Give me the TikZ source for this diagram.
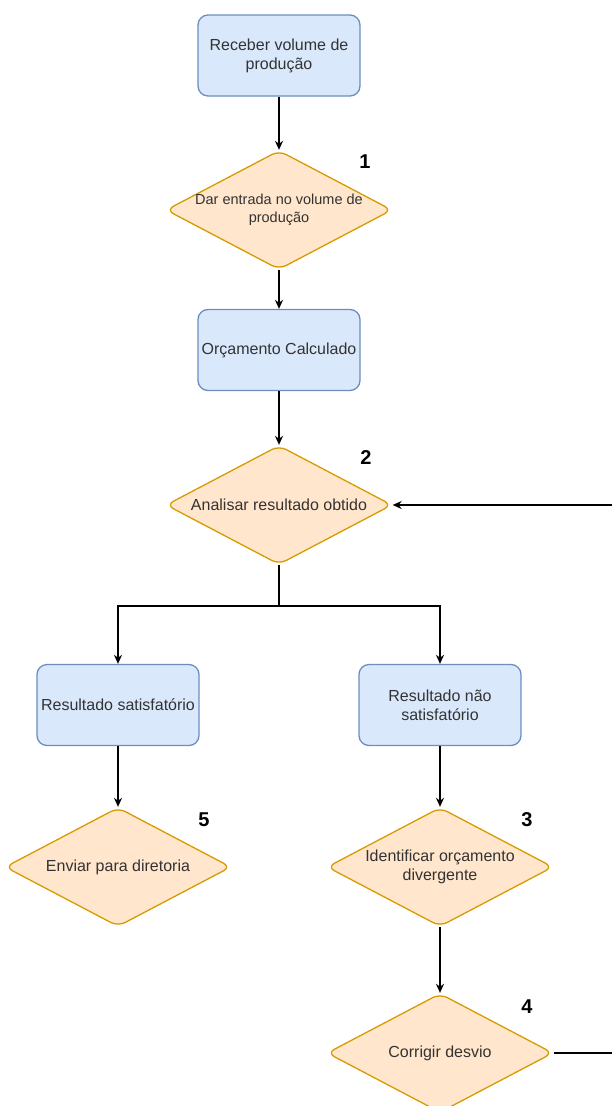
\documentclass[tikz,border=0pt]{standalone}
\usepackage{fontspec}
\setmainfont{Liberation Sans}
\usetikzlibrary{shapes.geometric, arrows.meta}

\definecolor{boxfill}{HTML}{DAE8FC}
\definecolor{boxline}{HTML}{6C8EBF}
\definecolor{decfill}{HTML}{FFE6CC}
\definecolor{decline}{HTML}{D79B00}
\definecolor{txtgray}{HTML}{333333}

\tikzset{
  stepbox/.style={rectangle, rounded corners=10pt, draw=boxline, fill=boxfill,
    line width=1.3pt, minimum width=162pt, minimum height=81pt, align=center,
    font=\fontsize{16}{19}\selectfont, text=txtgray},
  decision/.style={diamond, rounded corners=8pt, draw=decline, fill=decfill,
    line width=1.3pt, minimum width=226pt, minimum height=119pt, inner sep=0pt},
  dectext/.style={align=center, font=\fontsize{16}{19}\selectfont, text=txtgray},
  stepnum/.style={font=\bfseries\fontsize{20}{24}\selectfont},
  flow/.style={->, line width=1.3pt}
}

\begin{document}
\begin{tikzpicture}[x=1pt, y=-1pt, >={Stealth[length=9pt, width=8pt]}]
\useasboundingbox (0,0) rectangle (611,1106);

% Upper chain
\node [stepbox] (receive) at (279,55.5) {Receber volume de\\produção};
\node [decision] (entry) at (279,210) {};
\node [dectext, font=\fontsize{14.5}{18}\selectfont] (entrytext) at (entry) {Dar entrada no volume de\\produção};
\node [stepbox] (budget) at (279,350) {Orçamento Calculado};
\node [decision] (analyse) at (279,505) {};
\node [dectext] (analysetext) at (analyse) {Analisar resultado obtido};

% The two outcomes
\node [stepbox] (good) at (118,705) {Resultado satisfatório};
\node [stepbox] (bad) at (440,705) {Resultado não\\satisfatório};
\node [decision] (send) at (118,867) {};
\node [dectext] (sendtext) at (send) {Enviar para diretoria};
\node [decision] (identify) at (440,867) {};
\node [dectext] (identifytext) at (identify) {Identificar orçamento\\divergente};
\node [decision] (fix) at (440,1053) {};
\node [dectext] (fixtext) at (fix) {Corrigir desvio};

% Step numbers
\node [stepnum] (num1) at (365,162) {1};
\node [stepnum] (num2) at (366,458) {2};
\node [stepnum] (num3) at (527,820) {3};
\node [stepnum] (num4) at (527,1007) {4};
\node [stepnum] (num5) at (204,820) {5};

% Connectors
\coordinate (split) at (279,606);
\coordinate (backturn) at (625,1053);
\draw [flow] (receive) -- (entry);
\draw [flow] (entry) -- (budget);
\draw [flow] (budget) -- (analyse);
\draw [line width=1.3pt] (analyse) -- (split);
\draw [flow] (split) -| (good);
\draw [flow] (split) -| (bad);
\draw [flow] (good) -- (send);
\draw [flow] (bad) -- (identify);
\draw [flow] (identify) -- (fix);
\draw [flow] (fix.east) -- (backturn) |- (analyse.east);

\end{tikzpicture}
\end{document}
